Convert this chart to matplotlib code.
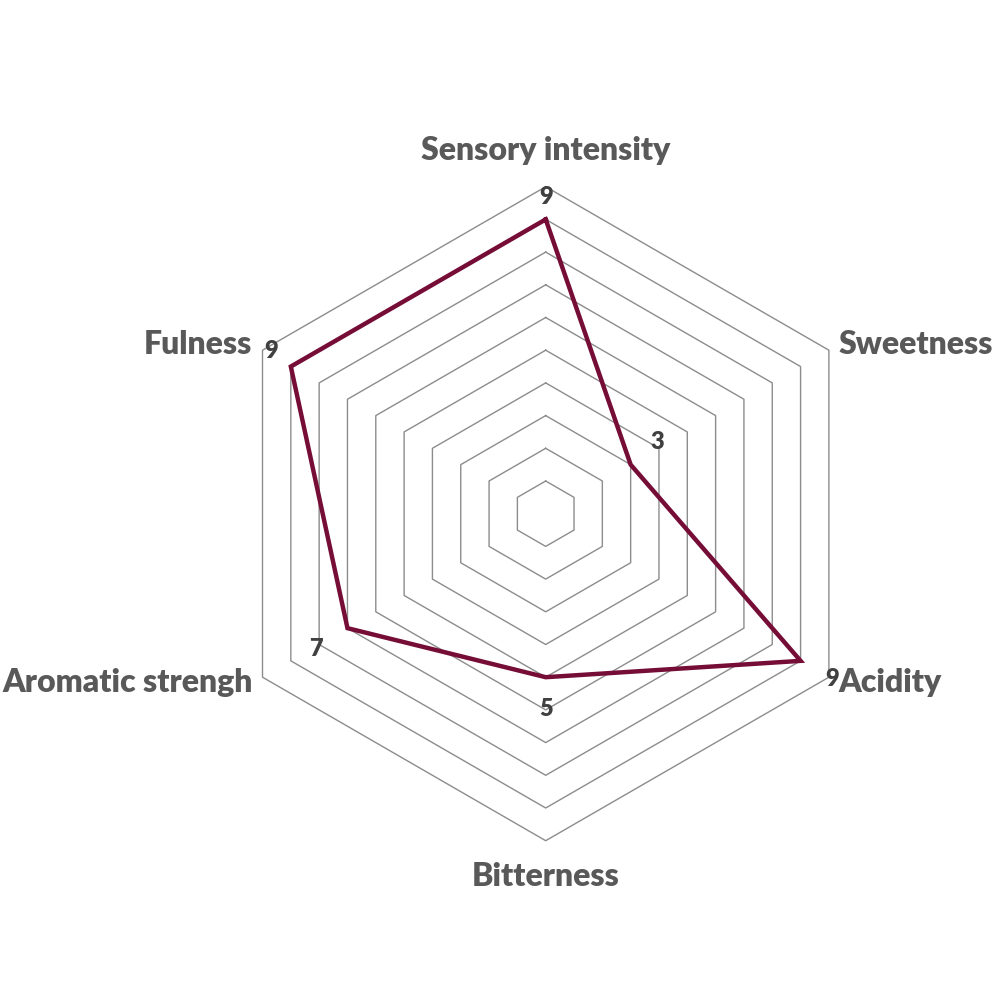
import numpy as np
import matplotlib
matplotlib.use('Agg')
import matplotlib.pyplot as plt

# data
categories = ['Sensory intensity', 'Sweetness', 'Acidity', 'Bitterness',
              'Aromatic strengh', 'Fulness']
values = [9, 3, 9, 5, 7, 9]
angles_deg = [90, 30, -30, -90, 210, 150]
max_value = 10

# where each value label sits relative to its point (pixels)
label_offsets = [(0, 22), (27, 23), (32, -18), (0, -32), (-32, -21), (-20, 16)]

line_color = '#750D37'
grid_color = '#8C8C8C'
text_color = '#595959'

plt.rcParams['font.family'] = ['Lato', 'DejaVu Sans']

fig = plt.figure(figsize=(10, 10), dpi=100)
ax = fig.add_axes([0, 0, 1, 1])

unit = 32.7  # pixels per value unit
cx, cy = 545.7, 1000 - 513.7
ax.set_xlim(-cx / unit, (1000 - cx) / unit)
ax.set_ylim(-cy / unit, (1000 - cy) / unit)
ax.set_aspect('equal')
ax.axis('off')

theta = np.deg2rad(angles_deg)
theta_closed = np.append(theta, theta[0])

# hexagon rings
for k in range(1, max_value + 1):
    ax.plot(k * np.cos(theta_closed), k * np.sin(theta_closed),
            color=grid_color, lw=1, zorder=1)

# series
vals = np.array(values, dtype=float)
vals_closed = np.append(vals, vals[0])
ax.plot(vals_closed * np.cos(theta_closed), vals_closed * np.sin(theta_closed),
        color=line_color, lw=3.2, solid_joinstyle='miter', zorder=3)

# value labels
for v, t, off in zip(vals, theta, label_offsets):
    ax.annotate(f'{v:g}', (v * np.cos(t), v * np.sin(t)), xytext=off,
                textcoords='offset pixels', ha='center', va='center',
                fontsize=17, fontweight='heavy', color='#404040', zorder=4)

# category labels
for name, a in zip(categories, angles_deg):
    t = np.deg2rad(a)
    if a in (90, -90):
        r = 11.1
        ha = 'center'
    else:
        r = 10.35
        ha = 'left' if np.cos(t) > 0 else 'right'
    ax.text(r * np.cos(t), r * np.sin(t), name, ha=ha, va='center',
            fontsize=23, fontweight='heavy', color=text_color)

fig.savefig('out.png', dpi=100)
